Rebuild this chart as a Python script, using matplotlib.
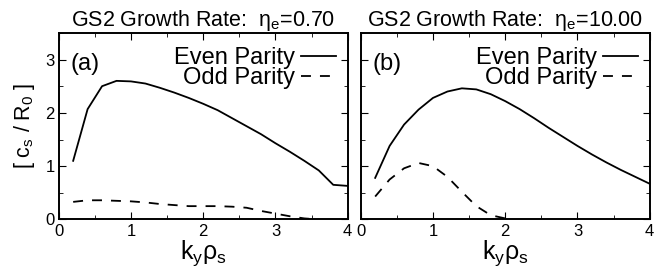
import numpy as np
import matplotlib.pyplot as plt

plt.rcParams['font.family'] = ['Liberation Sans', 'DejaVu Sans']
plt.rcParams['mathtext.fontset'] = 'custom'
plt.rcParams['mathtext.rm'] = 'Liberation Sans'
plt.rcParams['mathtext.it'] = 'Liberation Sans'

# data
ky = [0.2, 0.4, 0.6, 0.8, 1.0, 1.2, 1.4, 1.6, 1.8, 2.0,
      2.2, 2.4, 2.6, 2.8, 3.0, 3.2, 3.4, 3.6, 3.8, 4.0]
even_a = [1.1, 2.07, 2.5, 2.6, 2.59, 2.55, 2.47, 2.38, 2.28, 2.17,
          2.05, 1.9, 1.75, 1.6, 1.43, 1.27, 1.1, 0.92, 0.65, 0.63]
ky_odd_a = [0.2, 0.4, 0.6, 0.8, 1.0, 1.2, 1.4, 1.6, 1.8, 2.0,
            2.2, 2.4, 2.6, 2.8, 3.0, 3.2, 3.4, 3.6]
odd_a = [0.33, 0.36, 0.36, 0.35, 0.34, 0.32, 0.29, 0.27, 0.25, 0.25,
         0.25, 0.24, 0.22, 0.16, 0.11, 0.06, 0.02, 0.0]
even_b = [0.78, 1.38, 1.78, 2.06, 2.28, 2.4, 2.46, 2.44, 2.35, 2.22,
          2.07, 1.9, 1.72, 1.55, 1.38, 1.22, 1.07, 0.93, 0.8, 0.67]
ky_odd_b = [0.2, 0.4, 0.6, 0.8, 1.0, 1.2, 1.4, 1.6, 1.8, 2.0]
odd_b = [0.43, 0.75, 0.96, 1.06, 1.0, 0.8, 0.52, 0.25, 0.08, 0.02]

titles = [r'GS2 Growth Rate:  $\eta_e$=0.70', r'GS2 Growth Rate:  $\eta_e$=10.00']
tags = ['(a)', '(b)']

fig = plt.figure(figsize=(6.68, 2.74), dpi=100)
ax1 = fig.add_axes([0.0879, 0.199, 0.4326, 0.681])
ax2 = fig.add_axes([0.540, 0.199, 0.4326, 0.681])

panels = [(ax1, even_a, ky_odd_a, odd_a), (ax2, even_b, ky_odd_b, odd_b)]
for i, (ax, ev, kx, od) in enumerate(panels):
    ax.plot(ky, ev, 'k-', lw=1.3, label='Even Parity')
    ax.plot(kx, od, 'k--', lw=1.3, dashes=(5.5, 5), label='Odd Parity')
    ax.set_xlim(0, 4)
    ax.set_ylim(0, 3.5)
    ax.set_xticks([0, 1, 2, 3, 4])
    ax.set_xticks(np.arange(0, 4.01, 0.5), minor=True)
    ax.set_yticks([0, 1, 2, 3])
    ax.set_yticks(np.arange(0, 3.51, 0.5), minor=True)
    ax.tick_params(which='both', direction='in', top=True, right=True, labelsize=12, pad=3)
    ax.tick_params(which='major', length=5)
    ax.tick_params(which='minor', length=3)
    for s in ax.spines.values():
        s.set_linewidth(1.4)
    ax.set_xlabel(r'k$_y$$\rho_s$', fontsize=18, labelpad=0)
    ax.set_title(titles[i], fontsize=15.5, pad=3)
    ax.text(0.04, 0.834, tags[i], transform=ax.transAxes, fontsize=17, va='center')
    ax.legend(loc='upper right', bbox_to_anchor=(0.958, 0.925), frameon=False,
              markerfirst=False, fontsize=17, handlelength=1.45, handletextpad=0.25,
              labelspacing=-0.08, borderaxespad=0, borderpad=0)

ax2.tick_params(labelleft=False)
ax1.set_ylabel(r'[ c$_s$ / R$_0$ ]', fontsize=15.5, labelpad=6)

fig.savefig('out.png', dpi=100)
